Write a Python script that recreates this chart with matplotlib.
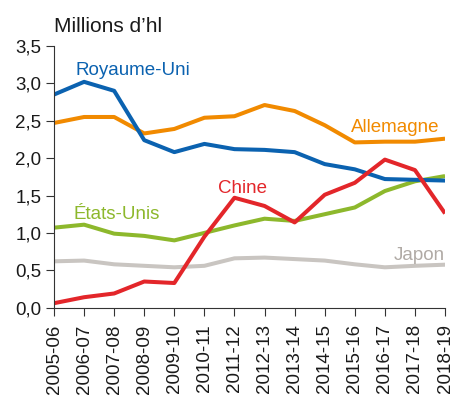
import numpy as np
import matplotlib.pyplot as plt

plt.rcParams['font.family'] = ['Liberation Sans', 'DejaVu Sans']

saisons = ["2005-06", "2006-07", "2007-08", "2008-09", "2009-10", "2010-11", "2011-12",
           "2012-13", "2013-14", "2014-15", "2015-16", "2016-17", "2017-18", "2018-19"]

royaume_uni = [2.85, 3.02, 2.90, 2.24, 2.08, 2.19, 2.12, 2.11, 2.08, 1.92, 1.85, 1.72, 1.71, 1.70]
allemagne = [2.47, 2.55, 2.55, 2.33, 2.39, 2.54, 2.56, 2.71, 2.63, 2.44, 2.21, 2.22, 2.22, 2.26]
chine = [0.06, 0.14, 0.19, 0.35, 0.33, 0.95, 1.47, 1.36, 1.14, 1.51, 1.67, 1.98, 1.84, 1.26]
etats_unis = [1.07, 1.11, 0.99, 0.96, 0.90, 1.00, 1.10, 1.19, 1.16, 1.25, 1.34, 1.56, 1.69, 1.76]
japon = [0.62, 0.63, 0.58, 0.56, 0.54, 0.56, 0.66, 0.67, 0.65, 0.63, 0.58, 0.54, 0.56, 0.575]

# couleurs
bleu = "#0b62b0"
orange = "#f18a00"
rouge = "#e3262a"
vert = "#8db82c"
gris = "#c9c5c1"

fig = plt.figure(figsize=(4.5, 4.03), dpi=100)
ax = fig.add_axes([0.12, 0.2365, 0.869, 0.6495])

x = np.arange(len(saisons))
lw = 2.9
ax.plot(x, japon, color=gris, lw=lw, solid_capstyle="butt")
ax.plot(x, etats_unis, color=vert, lw=lw, solid_capstyle="butt")
ax.plot(x, allemagne, color=orange, lw=lw, solid_capstyle="butt")
ax.plot(x, royaume_uni, color=bleu, lw=lw, solid_capstyle="butt")
ax.plot(x, chine, color=rouge, lw=lw, solid_capstyle="butt")

fs = 13.5
ax.text(0.70, 3.06, "Royaume-Uni", color=bleu, fontsize=fs, va="bottom", ha="left")
ax.text(12.83, 2.30, "Allemagne", color=orange, fontsize=fs, va="bottom", ha="right")
ax.text(5.45, 1.48, "Chine", color=rouge, fontsize=fs, va="bottom", ha="left")
ax.text(0.65, 1.13, "États-Unis", color=vert, fontsize=fs, va="bottom", ha="left")
ax.text(13.0, 0.59, "Japon", color="#b0aaa5", fontsize=fs, va="bottom", ha="right")

ax.set_xlim(0, 13)
ax.set_ylim(0, 3.5)
ax.set_xticks(x)
ax.set_xticklabels(saisons, rotation=90, fontsize=fs)
yt = np.arange(0, 3.51, 0.5)
ax.set_yticks(yt)
ax.set_yticklabels([f"{v:.1f}".replace(".", ",") for v in yt], fontsize=fs)

for s in ["top", "right"]:
    ax.spines[s].set_visible(False)
for s in ["left", "bottom"]:
    ax.spines[s].set_color("#333333")
    ax.spines[s].set_linewidth(0.8)
ax.tick_params(axis="both", colors="#333333", length=6, width=0.8, labelcolor="#1a1a1a")
ax.tick_params(axis="x", pad=6)
ax.tick_params(axis="y", pad=3)

fig.text(0.12, 0.921, "Millions d\u2019hl", fontsize=15, color="#1a1a1a", ha="left", va="baseline")

plt.savefig("out.png", dpi=100)
